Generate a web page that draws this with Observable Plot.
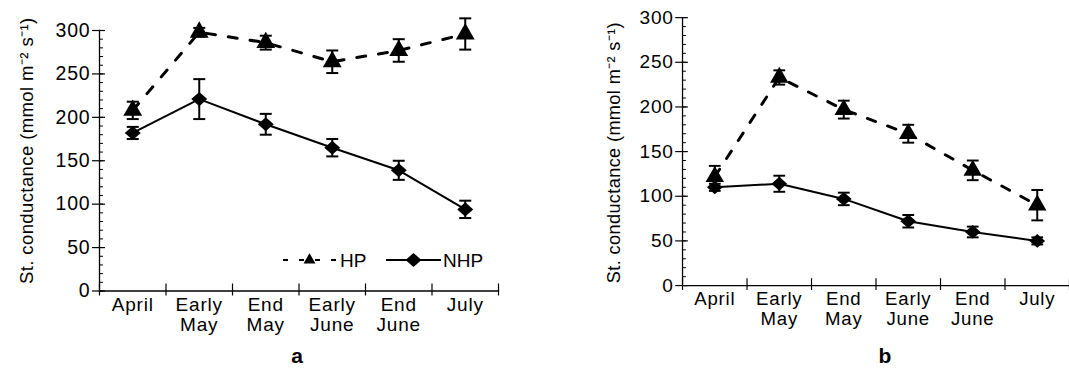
<!DOCTYPE html>
<html>
<head>
<meta charset="utf-8">
<script src="https://cdn.jsdelivr.net/npm/d3@7"></script>
<script src="https://cdn.jsdelivr.net/npm/@observablehq/plot@0.6"></script>
<style>
  html, body { margin: 0; padding: 0; background: #fff; overflow: hidden; }
  #wrap { position: relative; width: 1069px; height: 373px; overflow: hidden; background: #fff; font-family: "Liberation Sans", Arial, sans-serif; }
  .panel { position: absolute; top: 0; }
  .plab { position: absolute; top: 344px; font-size: 21px; font-weight: bold; transform: translateX(-50%); }
  #legend { position: absolute; left: 0; top: 0; }
  .ticklab text { letter-spacing: 0.8px; }
</style>
</head>
<body>
<div id="wrap">
  <div id="pa" class="panel" style="left:0px"></div>
  <div id="pb" class="panel" style="left:540px"></div>
  <div class="plab" style="left:297px">a</div>
  <div class="plab" style="left:885px">b</div>
</div>
<script>
// ---- data ----
const categories = ["April", "Early\nMay", "End\nMay", "Early\nJune", "End\nJune", "July"];
const yTicks = [0, 50, 100, 150, 200, 250, 300];
const yLabel = "St. conductance (mmol m\u207B\u00B2 s\u207B\u00B9)";
const seriesNames = ["HP", "NHP"];

// panel a
const hpA = [208, 298, 286, 264, 277, 296];
const hpAerr = [10, 5, 8, 13, 13, 18];
const nhpA = [182, 221, 192, 165, 139, 94];
const nhpAerr = [7, 23, 12, 10, 11, 10];

// panel b
const hpB = [122, 233, 197, 170, 129, 90];
const hpBerr = [12, 8, 10, 10, 11, 17];
const nhpB = [110, 114, 97, 72, 60, 50];
const nhpBerr = [4, 9, 7, 7, 6, 4];

// ---- helpers ----
const rows = (vals, errs) => vals.map((v, i) => ({i, v, lo: v - errs[i], hi: v + errs[i]}));
const capSymbol = {
  draw(ctx, size) {
    const r = Math.sqrt(size / Math.PI);
    ctx.moveTo(-r, 0);
    ctx.lineTo(r, 0);
  }
};
const diamondSymbol = {
  draw(ctx, size) {
    const r = Math.sqrt(size / Math.PI);
    const h = r * 0.88;
    ctx.moveTo(0, -h);
    ctx.lineTo(r, 0);
    ctx.lineTo(0, h);
    ctx.lineTo(-r, 0);
    ctx.closePath();
  }
};
const FONT = "Liberation Sans, Arial, sans-serif";

function panel({hp, hpErr, nhp, nhpErr, width, marginLeft, marginRight, marginTop, marginBottom, height, labelDx, labelDy}) {
  const H = rows(hp, hpErr), N = rows(nhp, nhpErr);
  const bounds = d3.range(categories.length + 1).map(k => k - 0.5);
  const minor = d3.range(0, 301, 10);
  return Plot.plot({
    width, height, marginLeft, marginRight, marginTop, marginBottom,
    style: {fontFamily: FONT, fontSize: "18px", color: "black", background: "white", overflow: "visible", letterSpacing: "0.4px"},
    x: {type: "linear", domain: [-0.5, categories.length - 0.5]},
    y: {domain: [0, 300]},
    marks: [
      // axis lines
      Plot.frame({anchor: "left", stroke: "black", strokeWidth: 1.3}),
      Plot.frame({anchor: "bottom", stroke: "black", strokeWidth: 1.3}),
      // y minor ticks (inside)
      Plot.axisY({ticks: minor, tickSize: 4, dx: 4, tickFormat: () => "", label: null, strokeWidth: 1}),
      // y major ticks (crossing)
      Plot.axisY({ticks: yTicks, tickSize: 13, dx: 6, tickFormat: () => "", label: null, strokeWidth: 1.2}),
      // y tick labels
      Plot.axisY({ticks: yTicks, tickSize: 0, tickPadding: 9, label: null, fontSize: 19.5, className: "ticklab"}),
      // x boundary ticks (crossing)
      Plot.axisX({ticks: bounds, tickSize: 12, dy: -7, tickFormat: () => "", label: null, strokeWidth: 1.2}),
      // x category labels
      Plot.axisX({ticks: d3.range(categories.length), tickSize: 0, tickPadding: 5, tickFormat: i => categories[i], label: null, fontSize: 19, lineHeight: 1.08, className: "ticklab"}),
      // y axis title
      Plot.text([yLabel], {frameAnchor: "left", textAnchor: "middle", lineAnchor: "middle", text: d => d, rotate: -90, dx: labelDx, dy: labelDy, fontSize: 18.5}),
      // HP series
      Plot.line(H, {x: "i", y: "v", stroke: "black", strokeWidth: 3, strokeDasharray: "9,13"}),
      Plot.ruleX(H, {x: "i", y1: "lo", y2: "hi", stroke: "black", strokeWidth: 2}),
      Plot.dot(H, {x: "i", y: "hi", symbol: capSymbol, r: 6, stroke: "black", strokeWidth: 2, fill: "none"}),
      Plot.dot(H, {x: "i", y: "lo", symbol: capSymbol, r: 6, stroke: "black", strokeWidth: 2, fill: "none"}),
      Plot.dot(H, {x: "i", y: "v", symbol: "triangle", r: 7, fill: "black", stroke: "none"}),
      // NHP series
      Plot.line(N, {x: "i", y: "v", stroke: "black", strokeWidth: 2}),
      Plot.ruleX(N, {x: "i", y1: "lo", y2: "hi", stroke: "black", strokeWidth: 2}),
      Plot.dot(N, {x: "i", y: "hi", symbol: capSymbol, r: 6, stroke: "black", strokeWidth: 2, fill: "none"}),
      Plot.dot(N, {x: "i", y: "lo", symbol: capSymbol, r: 6, stroke: "black", strokeWidth: 2, fill: "none"}),
      Plot.dot(N, {x: "i", y: "v", symbol: diamondSymbol, r: 8, fill: "black", stroke: "none"})
    ]
  });
}

document.getElementById("pa").append(panel({
  hp: hpA, hpErr: hpAerr, nhp: nhpA, nhpErr: nhpAerr,
  width: 540, height: 345, marginLeft: 99, marginRight: 42, marginTop: 30, marginBottom: 54.5,
  labelDx: -72, labelDy: -10
}));
document.getElementById("pb").append(panel({
  hp: hpB, hpErr: hpBerr, nhp: nhpB, nhpErr: nhpBerr,
  width: 540, height: 345, marginLeft: 145, marginRight: 0, marginTop: 17.5, marginBottom: 54,
  labelDx: -70, labelDy: 1
}));

// ---- legend (panel a, inside plot area) ----
const svg = d3.select("#wrap").append("svg")
  .attr("id", "legend").attr("width", 540).attr("height", 300)
  .style("font-family", FONT).style("font-size", "19px");
const ly = 260;
const items = [
  {name: seriesNames[0], x0: 283, x1: 336, dash: "5,11", sym: d3.symbolTriangle2, size: 100, tx: 340},
  {name: seriesNames[1], x0: 386, x1: 441, dash: null, sym: diamondSymbol, size: Math.PI * 64, tx: 443}
];
for (const it of items) {
  const g = svg.append("g");
  g.append("line").attr("x1", it.x0).attr("x2", it.x1).attr("y1", ly).attr("y2", ly)
    .attr("stroke", "black").attr("stroke-width", 2)
    .attr("stroke-dasharray", it.dash);
  g.append("path").attr("d", d3.symbol(it.sym, it.size)())
    .attr("transform", `translate(${(it.x0 + it.x1) / 2},${ly})`).attr("fill", "black");
  g.append("text").attr("x", it.tx).attr("y", ly).attr("dy", "0.35em").text(it.name);
}
</script>
</body>
</html>
